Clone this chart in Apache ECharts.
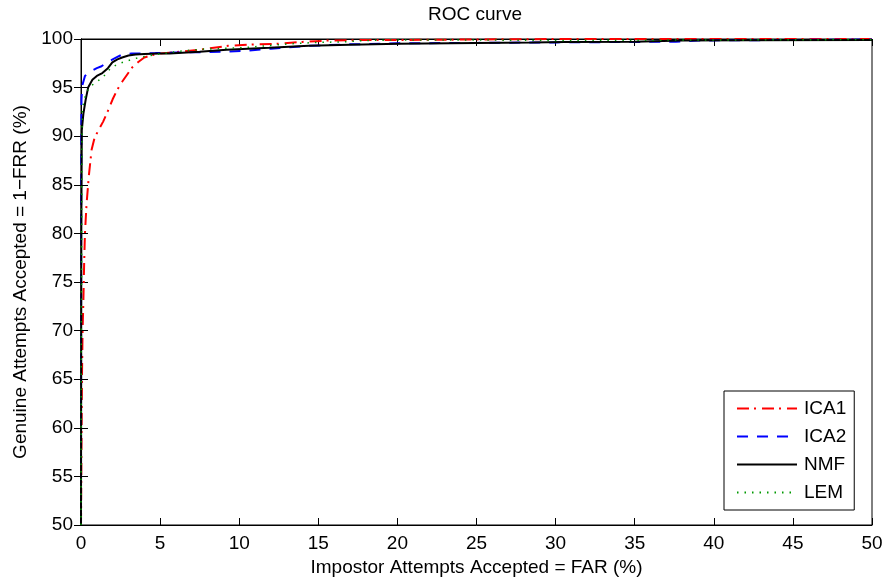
<!DOCTYPE html>
<html>
<head>
<meta charset="utf-8">
<script src="https://cdn.jsdelivr.net/npm/echarts@6/dist/echarts.min.js"></script>
<style>
html,body{margin:0;padding:0;background:#fff;}
#c{width:888px;height:586px;}
</style>
</head>
<body>
<div id="c"></div>
<script>
const titleText = 'ROC curve';
const xName = 'Impostor Attempts Accepted = FAR (%)';
const yName = 'Genuine Attempts Accepted = 1\u2212FRR (%)';
const seriesNames = ['ICA1', 'ICA2', 'NMF', 'LEM'];

const ica1X = [0, 0.03, 0.06, 0.1, 0.15, 0.2, 0.25, 0.35, 0.5, 0.67, 0.85, 1.1, 1.4, 1.7, 2.0, 2.3, 2.6, 2.9, 3.25, 3.6, 4.0, 4.5, 5.0, 6.0, 7.5, 9.3, 11, 12.3, 14, 15.7, 18, 20, 25, 30, 40, 50];
const ica1Y = [50, 58, 65, 70, 73, 77, 80, 83, 86, 88.6, 89.8, 90.6, 91.5, 92.6, 93.8, 94.8, 95.6, 96.3, 97.1, 97.6, 98.1, 98.35, 98.5, 98.65, 98.9, 99.3, 99.45, 99.5, 99.7, 99.85, 99.9, 99.9, 99.95, 100, 100, 100];

const ica2X = [0, 0.01, 0.03, 0.08, 0.25, 0.45, 0.65, 1.0, 1.3, 1.65, 2.0, 2.3, 2.6, 3.2, 4.7, 6, 7.6, 9, 10.5, 12, 14.4, 17, 20, 25, 30, 35, 37.6, 39, 45, 50];
const ica2Y = [50, 85, 93.8, 95.2, 96.2, 96.5, 96.7, 97.0, 97.2, 97.6, 97.9, 98.15, 98.4, 98.5, 98.55, 98.6, 98.65, 98.7, 98.8, 99.0, 99.3, 99.45, 99.55, 99.6, 99.65, 99.7, 99.72, 99.85, 99.9, 99.95];

const nmfX = [0, 0.02, 0.05, 0.15, 0.3, 0.45, 0.72, 1.0, 1.35, 1.7, 1.98, 2.3, 2.6, 3.0, 3.45, 4.0, 5.0, 5.6, 7.5, 9.2, 11.9, 14.4, 17, 20.1, 25, 28.5, 30.6, 35, 38, 42, 50];
const nmfY = [50, 80, 90.6, 92.3, 93.8, 95.0, 95.8, 96.2, 96.5, 97.0, 97.6, 97.9, 98.1, 98.3, 98.4, 98.45, 98.5, 98.5, 98.7, 98.9, 99.1, 99.3, 99.4, 99.5, 99.6, 99.65, 99.7, 99.72, 99.85, 99.88, 99.9];

const lemX = [0, 0.02, 0.05, 0.08, 0.2, 0.5, 0.9, 1.35, 1.88, 2.3, 2.82, 3.67, 4.7, 6, 7.6, 10.2, 13.1, 14.9, 16.5, 18, 20, 25, 30, 40, 50];
const lemY = [50, 70, 86, 92.5, 93.8, 95.0, 95.5, 96.0, 97.0, 97.4, 97.7, 98.1, 98.4, 98.7, 98.95, 99.1, 99.5, 99.65, 99.7, 99.85, 99.9, 99.9, 99.85, 99.9, 99.95];

const xTicks = [0, 5, 10, 15, 20, 25, 30, 35, 40, 45, 50];
const yTicks = [50, 55, 60, 65, 70, 75, 80, 85, 90, 95, 100];

function pairs(xs, ys) { return xs.map((x, i) => [x, ys[i]]); }

const FONT = "'Liberation Sans', Arial, sans-serif";
const FS = 19;

const chart = echarts.init(document.getElementById('c'), null, {renderer: 'canvas'});

const tickStyle = {show: true, inside: true, length: 7, lineStyle: {color: '#000', width: 1}};
const lineSt = {show: true, lineStyle: {color: '#000', width: 1}};

const option = {
  backgroundColor: '#fff',
  animation: false,
  title: {
    text: titleText, left: 428, top: 5, padding: 0,
    textStyle: {fontFamily: FONT, fontSize: FS, fontWeight: 'normal', color: '#000'}
  },
  grid: {left: 81, right: 16, top: 39, bottom: 61, show: true, borderColor: '#000', borderWidth: 1, containLabel: false},
  legend: {
    data: seriesNames,
    orient: 'vertical',
    left: 724, top: 391,
    padding: [8, 8, 8, 12],
    itemWidth: 60, itemHeight: 19, itemGap: 9,
    borderColor: '#000', borderWidth: 1, borderRadius: 0,
    backgroundColor: '#fff',
    itemStyle: {opacity: 0},
    textStyle: {fontFamily: FONT, fontSize: FS, color: '#000', padding: [0, 0, 0, 2]}
  },
  xAxis: [{
    type: 'value', min: xTicks[0], max: xTicks[xTicks.length - 1], interval: 5,
    position: 'bottom',
    name: xName, nameLocation: 'middle', nameGap: 31,
    nameTextStyle: {fontFamily: FONT, fontSize: FS, color: '#000'},
    axisLine: lineSt, axisTick: tickStyle,
    axisLabel: {fontFamily: FONT, fontSize: FS, color: '#000', margin: 9},
    splitLine: {show: false}
  }, {
    type: 'value', min: xTicks[0], max: xTicks[xTicks.length - 1], interval: 5,
    position: 'top',
    axisLine: lineSt, axisTick: tickStyle, axisLabel: {show: false}, splitLine: {show: false}
  }],
  yAxis: [{
    type: 'value', min: yTicks[0], max: yTicks[yTicks.length - 1], interval: 5,
    position: 'left',
    name: yName, nameLocation: 'middle', nameGap: 50,
    nameTextStyle: {fontFamily: FONT, fontSize: FS, color: '#000'},
    axisLine: lineSt, axisTick: tickStyle,
    axisLabel: {fontFamily: FONT, fontSize: FS, color: '#000', margin: 8},
    splitLine: {show: false}
  }, {
    type: 'value', min: yTicks[0], max: yTicks[yTicks.length - 1], interval: 5,
    position: 'right',
    axisLine: lineSt, axisTick: tickStyle, axisLabel: {show: false}, splitLine: {show: false}
  }],
  series: [
    {name: seriesNames[0], type: 'line', data: pairs(ica1X, ica1Y), symbol: 'none', showSymbol: false,
     color: '#ff0000', lineStyle: {color: '#ff0000', width: 2, type: [12, 5, 2, 6]}},
    {name: seriesNames[1], type: 'line', data: pairs(ica2X, ica2Y), symbol: 'none', showSymbol: false,
     color: '#0000ff', lineStyle: {color: '#0000ff', width: 2, type: [11, 9]}},
    {name: seriesNames[2], type: 'line', data: pairs(nmfX, nmfY), symbol: 'none', showSymbol: false,
     color: '#000000', lineStyle: {color: '#000000', width: 2, type: 'solid'}},
    {name: seriesNames[3], type: 'line', data: pairs(lemX, lemY), symbol: 'none', showSymbol: false,
     color: '#009900', lineStyle: {color: '#009900', width: 1.5, type: [1.5, 6]}}
  ]
};
chart.setOption(option);
</script>
</body>
</html>
